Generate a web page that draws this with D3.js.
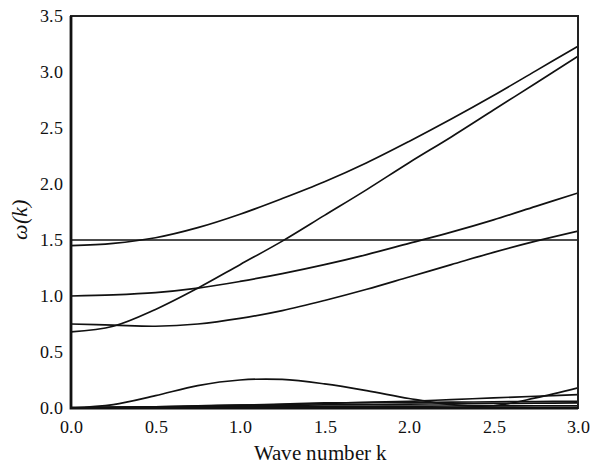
<!DOCTYPE html>
<html>
<head>
<meta charset="utf-8">
<script src="https://cdn.jsdelivr.net/npm/d3@7"></script>
<style>
  @font-face {
    font-family: "RefSerif";
    src: local("Liberation Serif"), local("LiberationSerif-Regular"), local("Liberation Serif Regular"), local("DejaVu Serif");
    font-style: normal;
  }
  @font-face {
    font-family: "RefSerif";
    src: local("Liberation Serif Italic"), local("LiberationSerif-Italic"), local("DejaVu Serif Italic");
    font-style: italic;
  }
  body { margin: 0; background: #fff; }
</style>
</head>
<body id="body">
<script>
var kValues = [0, 0.25, 0.5, 0.75, 1.0, 1.25, 1.5, 1.75, 2.0, 2.25, 2.5, 2.75, 3.0];

// dispersion branches omega(k)
var branchTop    = [1.45, 1.47, 1.52, 1.61, 1.73, 1.87, 2.02, 2.19, 2.38, 2.58, 2.79, 3.01, 3.23];
var branchSteep  = [0.68, 0.73, 0.88, 1.07, 1.28, 1.49, 1.72, 1.95, 2.19, 2.42, 2.66, 2.90, 3.14];
var branchOne    = [1.00, 1.01, 1.03, 1.07, 1.13, 1.20, 1.28, 1.37, 1.47, 1.57, 1.68, 1.80, 1.92];
var branchLow    = [0.75, 0.74, 0.73, 0.75, 0.80, 0.87, 0.96, 1.06, 1.17, 1.28, 1.39, 1.49, 1.58];
var branchFlat   = [1.50, 1.50, 1.50, 1.50, 1.50, 1.50, 1.50, 1.50, 1.50, 1.50, 1.50, 1.50, 1.50];
var branchHump   = [0.00, 0.03, 0.11, 0.20, 0.25, 0.255, 0.215, 0.155, 0.085, 0.03, 0.02, 0.09, 0.18];
var acoustic1    = [0.00, 0.005, 0.01, 0.02, 0.025, 0.03, 0.04, 0.05, 0.06, 0.075, 0.09, 0.105, 0.12];
var acoustic2    = [0.00, 0.005, 0.01, 0.018, 0.025, 0.035, 0.045, 0.048, 0.05, 0.052, 0.055, 0.058, 0.06];
var acoustic3    = [0.00, 0.004, 0.008, 0.012, 0.017, 0.022, 0.028, 0.031, 0.034, 0.037, 0.04, 0.043, 0.045];
var acoustic4    = [0.00, 0.003, 0.005, 0.007, 0.009, 0.011, 0.013, 0.015, 0.017, 0.018, 0.019, 0.02, 0.02];

var allBranches = [branchTop, branchSteep, branchOne, branchLow, branchFlat,
    branchHump, acoustic1, acoustic2, acoustic3, acoustic4];

var xTicks = [0, 0.5, 1.0, 1.5, 2.0, 2.5, 3.0];
var yTicks = [0, 0.5, 1.0, 1.5, 2.0, 2.5, 3.0, 3.5];

var serif = "RefSerif, 'Liberation Serif', 'Times New Roman', serif";

var width = 592,
    height = 465,
    margin = { top: 16, right: 14, bottom: 57, left: 71 };
var innerW = width - margin.left - margin.right,
    innerH = height - margin.top - margin.bottom;

var x = d3.scaleLinear().domain([0, 3]).range([0, innerW]);
var y = d3.scaleLinear().domain([0, 3.5]).range([innerH, 0]);

var svg = d3.select("body").append("svg")
    .attr("width", width)
    .attr("height", height)
    .style("font-family", serif);

var g = svg.append("g")
    .attr("transform", "translate(" + margin.left + "," + margin.top + ")");

g.append("defs").append("clipPath").attr("id", "clip")
    .append("rect").attr("width", innerW).attr("height", innerH);

var line = d3.line()
    .x(function (d, i) { return x(kValues[i]); })
    .y(function (d) { return y(d); })
    .curve(d3.curveCatmullRom.alpha(0.5));

g.append("g").attr("clip-path", "url(#clip)")
    .selectAll("path")
    .data(allBranches)
    .enter().append("path")
    .attr("d", line)
    .attr("fill", "none")
    .attr("stroke", "#111")
    .attr("stroke-width", 1.7);

// axes (no tick marks, only labels)
var xAxis = g.append("g")
    .attr("transform", "translate(0," + innerH + ")")
    .call(d3.axisBottom(x).tickValues(xTicks).tickSize(0).tickPadding(13).tickFormat(d3.format(".1f")));
var yAxis = g.append("g")
    .call(d3.axisLeft(y).tickValues(yTicks).tickSize(0).tickPadding(8).tickFormat(d3.format(".1f")));

[xAxis, yAxis].forEach(function (a) {
    a.attr("font-family", null).attr("font-size", 17.5);
    a.select(".domain").remove();
    a.selectAll("text")
        .style("font-family", serif)
        .attr("fill", "#111");
});

// frame
g.append("rect")
    .attr("width", innerW)
    .attr("height", innerH)
    .attr("fill", "none")
    .attr("stroke", "#222")
    .attr("stroke-width", 2);
g.append("path")
    .attr("d", "M0,0V" + innerH + "H" + innerW)
    .attr("fill", "none")
    .attr("stroke", "#111")
    .attr("stroke-width", 2.8);

// axis titles
svg.append("text")
    .attr("x", margin.left + innerW / 2 - 4)
    .attr("y", 460)
    .attr("text-anchor", "middle")
    .style("font-family", serif)
    .attr("font-size", 21)
    .attr("fill", "#111")
    .text("Wave number k");

svg.append("text")
    .attr("transform", "translate(27,220) rotate(-90)")
    .attr("text-anchor", "middle")
    .style("font-family", serif)
    .attr("font-size", 22)
    .attr("font-style", "italic")
    .attr("fill", "#111")
    .text("ω(k)");
</script>
</body>
</html>
